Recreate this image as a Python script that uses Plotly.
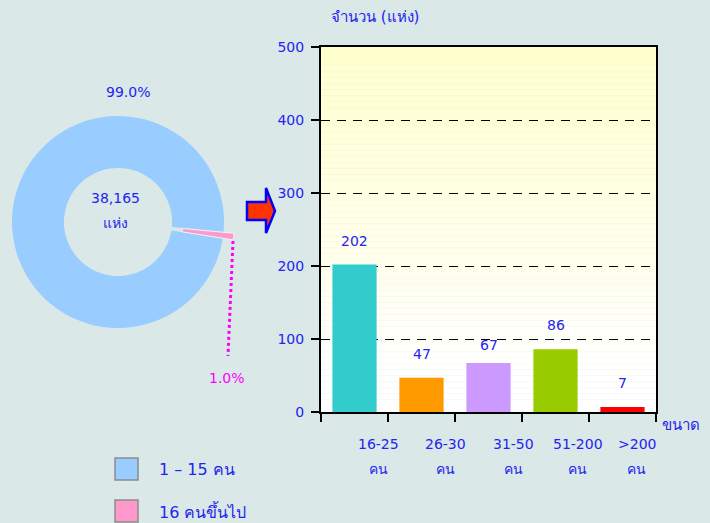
import plotly.graph_objects as go

W, H = 710, 523

# ---------------- data ----------------
pie_labels = ["1 – 15 คน", "16 คนขึ้นไป"]
pie_values = [99.0, 1.0]
pie_colors = ["#99CCFF", "#FF99CC"]
pie_total = "38,165"
pie_unit = "แห่ง"

size_ranges = ["16-25", "26-30", "31-50", "51-200", ">200"]
size_unit = "คน"
counts = [202, 47, 67, 86, 7]
bar_colors = ["#33CCCC", "#FF9900", "#CC99FF", "#99CC00", "#FF0000"]
y_ticks = [0, 100, 200, 300, 400, 500]

# ---------------- style ----------------
BLUE = "#2424F0"
MAGENTA = "#FF00FF"
BG = "#DAE8E8"
FONT = "DejaVu Sans, Noto Sans, sans-serif"
LABEL_XSHIFT = [24, 24, 25, 22, 14]
VALUE_YSHIFT = [14, 14, 8, 14, 14]


def px(x):
    return x / W


def py(y):
    return 1 - y / H


def txt(x, y, text, color=BLUE, size=14, xanchor="center"):
    return dict(x=px(x), y=py(y), xref="paper", yref="paper", text=text,
                showarrow=False, xanchor=xanchor, yanchor="middle",
                font=dict(size=size, color=color, family=FONT))


fig = go.Figure()

# ---------------- donut ----------------
PULL = 0.1
R = 106
half = R * (1 + PULL)
fig.add_trace(go.Pie(
    labels=pie_labels,
    values=pie_values,
    hole=0.51,
    sort=False,
    direction="clockwise",
    rotation=99,
    pull=[0, PULL],
    marker=dict(colors=pie_colors, line=dict(color="#EEF4F4", width=[0, 1])),
    textinfo="none",
    showlegend=False,
    domain=dict(x=[px(118 - half), px(118 + half)], y=[py(222 + half), py(222 - half)]),
))

# ---------------- bars ----------------
fig.add_trace(go.Bar(
    x=size_ranges,
    y=counts,
    marker=dict(color=bar_colors, line=dict(width=0)),
    width=0.66,
    showlegend=False,
    xaxis="x", yaxis="y",
))

shapes = []
annotations = []

# plot-area gradient (pale yellow -> white)
n = 60
top, bot = py(47), py(412)
c0 = (255, 255, 204)
c1 = (255, 255, 255)
for i in range(n):
    t = i / (n - 1)
    col = tuple(round(c0[k] + (c1[k] - c0[k]) * min(1, t * 1.1)) for k in range(3))
    y_hi = top - (top - bot) * i / n
    y_lo = top - (top - bot) * (i + 1) / n
    shapes.append(dict(type="rect", xref="paper", yref="paper",
                       x0=px(321), x1=px(656), y0=y_lo, y1=y_hi,
                       fillcolor="rgb(%d,%d,%d)" % col, line=dict(width=0),
                       layer="below"))

# bar value labels + category labels
for cat, v, sh, vs in zip(size_ranges, counts, LABEL_XSHIFT, VALUE_YSHIFT):
    annotations.append(dict(x=cat, y=v, xref="x", yref="y", text=str(v),
                            showarrow=False, xanchor="center", yanchor="bottom", yshift=vs,
                            font=dict(size=14, color=BLUE, family=FONT)))
    annotations.append(dict(x=cat, y=py(412), xref="x", yref="paper", text=cat,
                            showarrow=False, xanchor="center", yanchor="middle",
                            yshift=-32, xshift=sh,
                            font=dict(size=14, color=BLUE, family=FONT)))
    annotations.append(dict(x=cat, y=py(412), xref="x", yref="paper", text=size_unit,
                            showarrow=False, xanchor="center", yanchor="middle",
                            yshift=-57, xshift=sh,
                            font=dict(size=14, color=BLUE, family=FONT)))

# axis titles
annotations.append(txt(329, 17, "จำนวน (แห่ง)", xanchor="left", size=15))
annotations.append(txt(660, 425, "ขนาด", xanchor="left", size=15))

# donut texts
annotations.append(txt(115, 198, pie_total))
annotations.append(txt(115, 223, pie_unit))
annotations.append(txt(128, 92, "%.1f%%" % pie_values[0]))
annotations.append(txt(227, 378, "%.1f%%" % pie_values[1], color=MAGENTA))

# leader line
shapes.append(dict(type="line", xref="paper", yref="paper",
                   x0=px(233), y0=py(241), x1=px(228), y1=py(356),
                   line=dict(color=MAGENTA, width=3, dash="dot")))

# block arrow
pts = [(247, 202), (266, 202), (266, 188), (275, 211), (266, 233), (266, 220), (247, 220)]
path = "M " + " L ".join("%f,%f" % (px(x), py(y)) for x, y in pts) + " Z"
shapes.append(dict(type="path", xref="paper", yref="paper", path=path,
                   fillcolor="#FF3300", line=dict(color="#0000FF", width=2.5)))

# custom legend
leg_rows = [469, 511]
for lab, col, yc in zip(pie_labels, pie_colors, leg_rows):
    shapes.append(dict(type="rect", xref="paper", yref="paper",
                       x0=px(115), x1=px(138), y0=py(yc + 11), y1=py(yc - 11),
                       fillcolor=col, line=dict(color="#8C8C8C", width=1.5)))
    annotations.append(txt(157, yc, lab, size=16, xanchor="left"))

fig.update_layout(
    width=W, height=H,
    margin=dict(l=0, r=0, t=0, b=0, autoexpand=False),
    paper_bgcolor=BG,
    plot_bgcolor="rgba(0,0,0,0)",
    font=dict(family=FONT, color=BLUE, size=14),
    shapes=shapes,
    annotations=annotations,
    xaxis=dict(domain=[px(321), px(656)], range=[-0.5, len(size_ranges) - 0.5],
               showticklabels=False, automargin=False,
               tickson="boundaries", ticks="outside", ticklen=8, tickwidth=2,
               tickcolor="black", showline=True, linecolor="black", linewidth=2,
               mirror=True, showgrid=False, fixedrange=True),
    yaxis=dict(domain=[py(412), py(47)], range=[0, 500], tickvals=y_ticks,
               automargin=False,
               ticks="outside", ticklen=8, tickwidth=2, tickcolor="black",
               showline=True, linecolor="black", linewidth=2, mirror=True,
               showgrid=True, gridcolor="black", griddash="9px,7px", gridwidth=1,
               zeroline=False, tickfont=dict(size=14, color=BLUE, family=FONT),
               ticklabelstandoff=4, fixedrange=True),
)

fig.write_html("out.html", config={"displayModeBar": False},
               post_script="document.body.style.margin='0';document.body.style.overflow='hidden';")
